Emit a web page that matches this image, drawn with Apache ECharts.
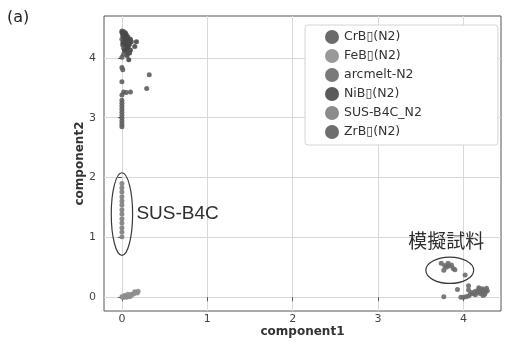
<!DOCTYPE html>
<html>
<head>
<meta charset="utf-8">
<script src="https://cdn.jsdelivr.net/npm/echarts@6/dist/echarts.min.js"></script>
<style>
  html, body { margin: 0; padding: 0; background: #fff; }
  #chart { width: 505px; height: 351px; }
</style>
</head>
<body>
<div id="chart"></div>
<script>
// Series names as shown in the legend
const seriesNames = ['CrB\u25AF(N2)', 'FeB\u25AF(N2)', 'arcmelt-N2', 'NiB\u25AF(N2)', 'SUS-B4C_N2', 'ZrB\u25AF(N2)'];
const seriesColors = ['#5b5b5b', '#8e8e8e', '#6c6c6c', '#484848', '#7e7e7e', '#5e5e5e'];

// [component1, component2] points per sample
const crbPoints = [
  [0.00,4.45],[0.02,4.44],[0.04,4.42],[0.01,4.40],[0.03,4.38],[0.05,4.36],[0.02,4.34],
  [0.06,4.33],[0.00,4.31],[0.04,4.30],[0.08,4.29],[0.02,4.27],[0.06,4.26],[0.03,4.24],
  [0.09,4.23],[0.01,4.21],[0.05,4.20],[0.07,4.18],[0.02,4.16],[0.04,4.14]
];
const febPoints = [
  [0.00,0.01],[0.02,0.00],[0.04,0.02],[0.06,0.01],[0.08,0.03],[0.10,0.04],[0.12,0.05],
  [0.14,0.06],[0.16,0.08],[0.18,0.07],[0.03,0.03],[0.07,0.05],[0.11,0.03],[0.15,0.09],
  [0.19,0.10],[0.01,0.00],[0.05,0.00],[0.09,0.01]
];
const arcmeltPoints = [
  [3.74,0.57],[3.78,0.53],[3.80,0.50],[3.83,0.52],[3.86,0.54],[3.77,0.45],[3.88,0.48],
  [3.90,0.46],[3.82,0.57],[4.02,0.37],[3.93,0.13],[3.77,0.01],
  [3.97,0.00],[4.00,0.00],[4.03,0.01],[4.06,0.02],[4.08,0.05],[4.06,0.12],[4.06,0.19],
  [4.10,0.08],[4.12,0.06],[4.14,0.10],[4.16,0.08],[4.18,0.13],[4.20,0.10],[4.22,0.14],
  [4.24,0.12],[4.26,0.09],[4.28,0.11],[4.20,0.06],[4.25,0.05],[4.14,0.04],[4.22,0.08],
  [4.18,0.16],[4.27,0.15],[4.23,0.03]
];
const nibPoints = [
  [0.00,4.43],[0.03,4.41],[0.05,4.39],[0.01,4.37],[0.07,4.35],[0.03,4.32],[0.10,4.31],
  [0.05,4.28],[0.01,4.25],[0.11,4.27],[0.04,4.22],[0.08,4.21],[0.06,4.17],[0.03,4.12],
  [0.05,4.10],[0.10,4.13],[0.17,4.27],[0.15,4.19],[0.09,4.08],[0.06,4.04],[0.08,3.97]
];
const susPoints = [
  [0,1.90],[0,1.83],[0,1.76],[0,1.68],[0,1.61],[0,1.54],[0,1.46],[0,1.39],
  [0,1.31],[0,1.24],[0,1.16],[0,1.09],[0,1.01]
];
const zrbPoints = [
  [0.00,3.84],[0.01,3.80],[0.00,3.60],[0.02,3.43],[0.10,3.43],[0.05,3.42],[0.00,3.38],
  [0.00,3.29],[0.00,3.24],[0.00,3.19],[0.00,3.14],[0.00,3.09],[0.00,3.04],[0.00,2.99],
  [0.00,2.94],[0.00,2.89],[0.00,2.85],[0.32,3.72],[0.29,3.49],[0.02,4.06],[0.00,4.01]
];
const allPoints = [crbPoints, febPoints, arcmeltPoints, nibPoints, susPoints, zrbPoints];

// Axis ranges and tick labels
const xRange = [-0.21, 4.44];
const yRange = [-0.23, 4.70];
const xTicks = [0, 1, 2, 3, 4];
const yTicks = [0, 1, 2, 3, 4];

// Highlight ellipses [cx, cy, rx, ry] and their captions [x, y, text]
const ellipses = [[0.0, 1.39, 0.125, 0.69], [3.84, 0.45, 0.28, 0.22]];
const captions = [[0.17, 1.39, 'SUS-B4C'], [3.80, 0.95, '模擬試料']];

const chart = echarts.init(document.getElementById('chart'), null, { renderer: 'canvas' });

const scatterSeries = seriesNames.map((name, i) => ({
  name: name,
  type: 'scatter',
  data: allPoints[i],
  symbolSize: 5,
  itemStyle: { color: seriesColors[i], opacity: 0.9 },
  z: 3
}));

const ellipseSeries = {
  type: 'custom',
  silent: true,
  z: 4,
  data: ellipses,
  renderItem: function (params, api) {
    const c = api.coord([api.value(0), api.value(1)]);
    const s = api.size([api.value(2), api.value(3)]);
    return {
      type: 'ellipse',
      shape: { cx: c[0], cy: c[1], rx: s[0], ry: s[1] },
      style: { fill: 'none', stroke: '#3a3a3a', lineWidth: 1.2 }
    };
  }
};

const captionSeries = {
  type: 'custom',
  silent: true,
  z: 5,
  data: captions,
  renderItem: function (params, api) {
    const p = api.coord([api.value(0), api.value(1)]);
    const right = params.dataIndex === 1;
    return {
      type: 'text',
      x: p[0],
      y: p[1],
      style: {
        text: captions[params.dataIndex][2],
        fill: '#2e2e2e',
        font: right ? '19px "Noto Sans CJK JP", sans-serif' : '19px "Liberation Sans", Arial, sans-serif',
        align: right ? 'center' : 'left',
        verticalAlign: 'middle'
      }
    };
  }
};

const axisCommon = {
  type: 'value',
  axisLine: { show: false },
  axisTick: { show: true, length: 4, lineStyle: { color: '#555' } },
  axisLabel: { color: '#444', fontSize: 11, fontFamily: 'DejaVu Sans' },
  splitLine: { show: true, lineStyle: { color: '#d8d8d8', width: 1 } },
  nameMoveOverlap: false,
  nameTextStyle: { color: '#333', fontSize: 12, fontFamily: 'DejaVu Sans', fontWeight: 'bold' }
};

chart.setOption({
  animation: false,
  backgroundColor: '#fff',
  graphic: [{
    type: 'text', left: 7, top: 10,
    style: { text: '(a)', font: '16px "DejaVu Sans", sans-serif', fill: '#222', letterSpacing: 3 }
  }],
  grid: {
    left: 104, top: 16, width: 397, height: 295,
    show: true, borderColor: '#555', borderWidth: 1, backgroundColor: 'transparent'
  },
  legend: {
    data: seriesNames,
    orient: 'vertical',
    left: 305,
    top: 25,
    icon: 'circle',
    itemWidth: 14,
    itemHeight: 14,
    itemGap: 5,
    itemTextGap: 10,
    padding: [5, 76, 6, 20],
    backgroundColor: '#fff',
    borderColor: '#d4d4d4',
    borderWidth: 1,
    borderRadius: 3,
    textStyle: { color: '#333', fontSize: 12.5, fontFamily: 'DejaVu Sans' }
  },
  xAxis: Object.assign({}, axisCommon, {
    min: xRange[0], max: xRange[1],
    name: 'component1', nameLocation: 'middle', nameGap: 15,
    axisTick: Object.assign({}, axisCommon.axisTick, { customValues: xTicks }),
    axisLabel: Object.assign({}, axisCommon.axisLabel, { customValues: xTicks, margin: 3 })
  }),
  yAxis: Object.assign({}, axisCommon, {
    min: yRange[0], max: yRange[1],
    name: 'component2', nameLocation: 'middle', nameGap: 18,
    axisTick: Object.assign({}, axisCommon.axisTick, { customValues: yTicks }),
    axisLabel: Object.assign({}, axisCommon.axisLabel, { customValues: yTicks, margin: 8 })
  }),
  series: scatterSeries.concat([ellipseSeries, captionSeries])
});
</script>
</body>
</html>
